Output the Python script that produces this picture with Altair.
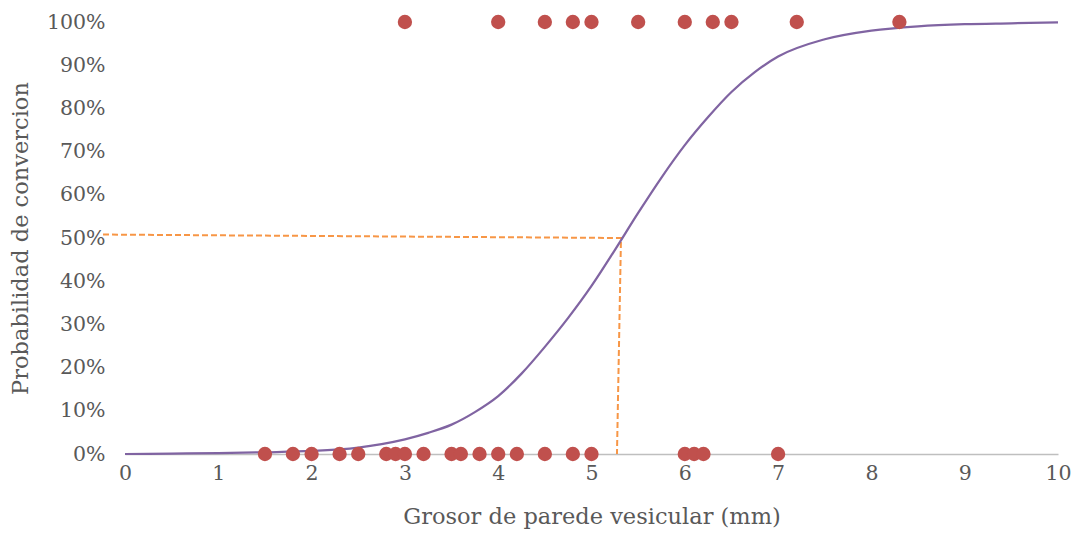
import altair as alt
import pandas as pd

# Observed cases (x = wall thickness mm, y = conversion 0/1)
obs_x0 = [1.5, 1.8, 2.0, 2.3, 2.5, 2.8, 2.9, 3.0, 3.2, 3.5, 3.6, 3.8, 4.0, 4.2, 4.5, 4.8, 5.0, 6.0, 6.1, 6.2, 7.0]
obs_x1 = [3.0, 4.0, 4.5, 4.8, 5.0, 5.5, 6.0, 6.3, 6.5, 7.2, 8.3]

# Fitted probability curve
curve_x = [0, 0.5, 1, 1.5, 2, 2.5, 2.75, 3, 3.25, 3.5, 3.75, 4, 4.25, 4.5, 4.75, 5,
           5.25, 5.5, 5.75, 6, 6.25, 6.5, 6.75, 7, 7.5, 8, 8.5, 9, 9.5, 10]
curve_y = [0.0, 0.001, 0.002, 0.004, 0.007, 0.015, 0.023, 0.034, 0.049, 0.068, 0.097,
           0.134, 0.186, 0.248, 0.315, 0.389, 0.472, 0.558, 0.640, 0.715, 0.780,
           0.838, 0.884, 0.920, 0.960, 0.980, 0.990, 0.995, 0.997, 0.999]

# Dashed guide at 50%
guide_x = [-0.236, 5.316, 5.273]
guide_y = [0.508, 0.500, 0.0]

pts = pd.DataFrame({"x": obs_x0 + obs_x1, "y": [0.0] * len(obs_x0) + [1.0] * len(obs_x1)})
cur = pd.DataFrame({"x": curve_x, "y": curve_y})
gd = pd.DataFrame({"x": guide_x, "y": guide_y, "o": list(range(len(guide_x)))})

FONT = "DejaVu Serif"
GREY = "#595959"

xs = alt.Scale(domain=[0, 10], nice=False)
ys = alt.Scale(domain=[0, 1], nice=False)

xax = alt.Axis(values=list(range(0, 11)), format="d", title="Grosor de parede vesicular (mm)", grid=False,
               ticks=False, domainColor="#BFBFBF", domainWidth=1.5, labelPadding=9,
               titlePadding=22, labelFlush=False)
yax = alt.Axis(values=[i / 10 for i in range(11)], format=".0%", title="Probabilidad de convercion",
               grid=False, ticks=False, domain=False, labelPadding=20, titlePadding=14)

guide = alt.Chart(gd).mark_line(color="#F79646", strokeDash=[6, 3], strokeWidth=2).encode(
    x=alt.X("x:Q", scale=xs, axis=xax), y=alt.Y("y:Q", scale=ys, axis=yax), order="o:Q")

curve = alt.Chart(cur).mark_line(color="#8064A2", strokeWidth=2.25, interpolate="monotone").encode(
    x=alt.X("x:Q", scale=xs), y=alt.Y("y:Q", scale=ys))

points = alt.Chart(pts).mark_circle(color="#C0504D", size=205, opacity=1).encode(
    x=alt.X("x:Q", scale=xs), y=alt.Y("y:Q", scale=ys))

chart = alt.layer(guide, curve, points).properties(
    width=933, height=432,
    autosize=alt.AutoSizeParams(type="none"),
    padding={"left": 125, "top": 22, "right": 16, "bottom": 85},
).configure_view(stroke=None).configure_axis(
    labelFont=FONT, titleFont=FONT, labelColor=GREY, titleColor=GREY,
    labelFontSize=20.5, titleFontSize=22.5, titleFontWeight="normal",
)

chart.save("out.html", embed_options={"renderer": "svg", "actions": False})
